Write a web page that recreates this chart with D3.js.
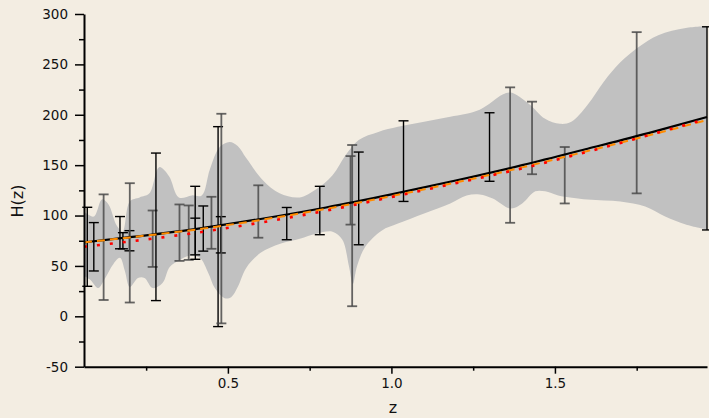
<!DOCTYPE html>
<html>
<head>
<meta charset="utf-8">
<script src="https://cdn.jsdelivr.net/npm/d3@7"></script>
<style>
  body { margin: 0; background: #f3ede2; }
  svg { display: block; }
  .axis text { font-family: "DejaVu Sans", sans-serif; font-size: 13.5px; fill: #111; }
</style>
</head>
<body>
<script>
// observational H(z) points, error bars drawn at 2 sigma
var obsZ     = [0.07, 0.09, 0.12, 0.17, 0.179, 0.199, 0.2, 0.27, 0.28, 0.352, 0.3802, 0.4, 0.4004, 0.4247, 0.4497, 0.47, 0.4783, 0.48, 0.593, 0.68, 0.781, 0.875, 0.88, 0.9, 1.037, 1.3, 1.363, 1.43, 1.53, 1.75, 1.965];
var obsH     = [69, 69, 68.6, 83, 75, 75, 72.9, 77, 88.8, 83, 83, 95, 77, 87.1, 92.8, 89, 80.9, 97, 104, 92, 105, 125, 90, 117, 154, 168, 160, 177, 140, 202, 186.5];
var obsSigma = [19.6, 12, 26.2, 8, 4, 5, 29.6, 14, 36.6, 14, 13.5, 17, 10.2, 11.2, 12.9, 49.6, 9, 52, 13, 8, 12, 17, 40, 23, 20, 17, 33.6, 18, 14, 40, 50.4];
var obsGroup = ["A","A","B","A","A","A","B","B","A","B","B","A","A","A","B","A","A","B","B","A","A","B","B","A","A","A","B","B","B","B","A"];

// reconstructed band
var bandUpZ = [0.06, 0.09, 0.115, 0.135, 0.16, 0.178, 0.2, 0.23, 0.26, 0.29, 0.32, 0.35, 0.39, 0.42, 0.445, 0.475, 0.505, 0.53, 0.556, 0.607, 0.658, 0.72, 0.77, 0.82, 0.86, 0.9, 0.96, 1.02, 1.1, 1.18, 1.27, 1.34, 1.365, 1.42, 1.47, 1.515, 1.55, 1.6, 1.65, 1.7, 1.755, 1.816, 1.9, 1.965];
var bandUpH = [104, 99, 116, 111, 90, 84, 114, 118, 122, 148, 139, 118, 120, 120, 146, 168, 173, 169, 157, 135, 122, 118, 126, 140, 160, 175, 183, 188, 193, 198, 205, 220, 222, 211, 196, 191, 193, 210, 233, 252, 267, 279, 286, 288];
var bandLoZ = [0.06, 0.08, 0.103, 0.125, 0.15, 0.17, 0.185, 0.2, 0.225, 0.245, 0.27, 0.3, 0.322, 0.353, 0.383, 0.414, 0.44, 0.46, 0.49, 0.51, 0.53, 0.556, 0.6, 0.66, 0.72, 0.77, 0.82, 0.85, 0.87, 0.882, 0.895, 0.92, 0.97, 1.02, 1.1, 1.18, 1.23, 1.27, 1.31, 1.365, 1.4, 1.44, 1.47, 1.51, 1.6, 1.7, 1.776, 1.837, 1.9, 1.965];
var bandLoH = [40, 36, 28, 38, 52, 58, 45, 29, 38, 38, 28, 33, 49, 56, 60, 58, 43, 28, 18, 19, 29, 48, 63, 72, 77, 82, 84, 76, 50, 32, 50, 69, 85, 92, 102, 112, 120, 121, 117, 107, 112, 124, 124, 120, 116, 114, 109, 99, 91, 86];

// model curves
var curveZ     = [0.06, 0.2, 0.4, 0.6, 0.8, 1.0, 1.2, 1.4, 1.6, 1.8, 1.965];
var meanH      = [73.4, 78.5, 86.6, 96.6, 108, 121, 135, 150, 166.3, 183, 197.8];
var dashedH    = [73.4, 78.3, 86.0, 95.6, 106.6, 119.3, 133, 147.8, 164, 180.6, 194.8];
var dottedH    = [69, 74.3, 82.8, 93, 104.8, 118.3, 132.3, 146.8, 163.3, 181, 196];

var xMajor = [0.5, 1.0, 1.5];
var xMinor = [0.25, 0.75, 1.25, 1.75];
var yMajor = [-50, 0, 50, 100, 150, 200, 250, 300];
var yMinor = [-25, 25, 75, 125, 175, 225, 275];

var width = 709, height = 418;

var svg = d3.select("body").append("svg")
    .attr("width", width)
    .attr("height", height);

svg.append("rect").attr("width", width).attr("height", height).attr("fill", "#f3ede2");

var x = d3.scaleLinear().domain([0.06, 1.965]).range([84, 707]);
var y = d3.scaleLinear().domain([-50, 300]).range([366.7, 14]);

// band: upper edge forward, lower edge back, both smoothed
var edge = d3.line()
    .x(function(d){ return x(d[0]); })
    .y(function(d){ return y(d[1]); })
    .curve(d3.curveCatmullRom.alpha(0.5));
var up = bandUpZ.map(function(z, i){ return [z, bandUpH[i]]; });
var lo = bandLoZ.map(function(z, i){ return [z, bandLoH[i]]; }).reverse();
var dUp = edge(up);
var dLo = edge(lo);
svg.append("path")
    .attr("d", dUp + "L" + dLo.slice(1) + "Z")
    .attr("fill", "#c1c1c1");

// error bars
var obs = obsZ.map(function(z, i){
    return {z: z, h: obsH[i], s: obsSigma[i], g: obsGroup[i]};
});
var barColor = {A: "#000", B: "#4a4a4a"};
var bars = svg.append("g").selectAll("g")
    .data(obs)
    .enter()
    .append("g")
    .attr("stroke", function(d){ return barColor[d.g]; })
    .attr("stroke-opacity", function(d){ return d.g == "B" ? 0.85 : 1; })
    .attr("stroke-width", function(d){ return d.g == "B" ? 1.8 : 1.4; });
bars.append("line")
    .attr("x1", function(d){ return x(d.z); })
    .attr("x2", function(d){ return x(d.z); })
    .attr("y1", function(d){ return y(d.h - 2 * d.s); })
    .attr("y2", function(d){ return y(d.h + 2 * d.s); });
bars.append("line")
    .attr("x1", function(d){ return x(d.z) - 5; })
    .attr("x2", function(d){ return x(d.z) + 5; })
    .attr("y1", function(d){ return y(d.h - 2 * d.s); })
    .attr("y2", function(d){ return y(d.h - 2 * d.s); });
bars.append("line")
    .attr("x1", function(d){ return x(d.z) - 5; })
    .attr("x2", function(d){ return x(d.z) + 5; })
    .attr("y1", function(d){ return y(d.h + 2 * d.s); })
    .attr("y2", function(d){ return y(d.h + 2 * d.s); });

// curves
var line = d3.line()
    .x(function(d, i){ return x(curveZ[i]); })
    .y(function(d){ return y(d); })
    .curve(d3.curveMonotoneX);

svg.append("path").datum(meanH).attr("d", line)
    .attr("fill", "none").attr("stroke", "#000").attr("stroke-width", 2.2);
svg.append("path").datum(dashedH).attr("d", line)
    .attr("fill", "none").attr("stroke", "#ff8c00").attr("stroke-width", 2)
    .attr("stroke-dasharray", "8,5");
svg.append("path").datum(dottedH).attr("d", line)
    .attr("fill", "none").attr("stroke", "#ff0000").attr("stroke-width", 2.6)
    .attr("stroke-dasharray", "3,10");

// axes
svg.append("g").attr("class", "axis")
    .attr("transform", "translate(0,366.7)")
    .call(d3.axisBottom(x).tickValues(xMajor).tickFormat(d3.format(".1f")).tickSize(7).tickSizeOuter(0).tickPadding(5));
svg.append("g").attr("class", "axis")
    .attr("transform", "translate(0,366.7)")
    .call(d3.axisBottom(x).tickValues(xMinor).tickFormat("").tickSize(4).tickSizeOuter(0))
    .select(".domain").remove();

svg.append("g").attr("class", "axis")
    .attr("transform", "translate(84,0)")
    .call(d3.axisLeft(y).tickValues(yMajor).tickFormat(function(d){ return String(d); })
        .tickSize(9).tickSizeOuter(0).tickPadding(7));
svg.append("g").attr("class", "axis")
    .attr("transform", "translate(84,0)")
    .call(d3.axisLeft(y).tickValues(yMinor).tickFormat("").tickSize(5).tickSizeOuter(0))
    .select(".domain").remove();

svg.selectAll(".axis .domain").attr("stroke", "#000").attr("stroke-width", 2);
svg.selectAll(".axis .tick line").attr("stroke", "#000").attr("stroke-width", 1.5);

// titles
svg.append("text")
    .attr("transform", "translate(23,201) rotate(-90)")
    .attr("text-anchor", "middle")
    .style("font-family", "DejaVu Sans, sans-serif")
    .style("font-size", "16px")
    .attr("fill", "#111")
    .text("H(z)");
svg.append("text")
    .attr("x", 393)
    .attr("y", 413)
    .attr("text-anchor", "middle")
    .style("font-family", "DejaVu Sans, sans-serif")
    .style("font-size", "16px")
    .attr("fill", "#111")
    .text("z");
</script>
</body>
</html>
